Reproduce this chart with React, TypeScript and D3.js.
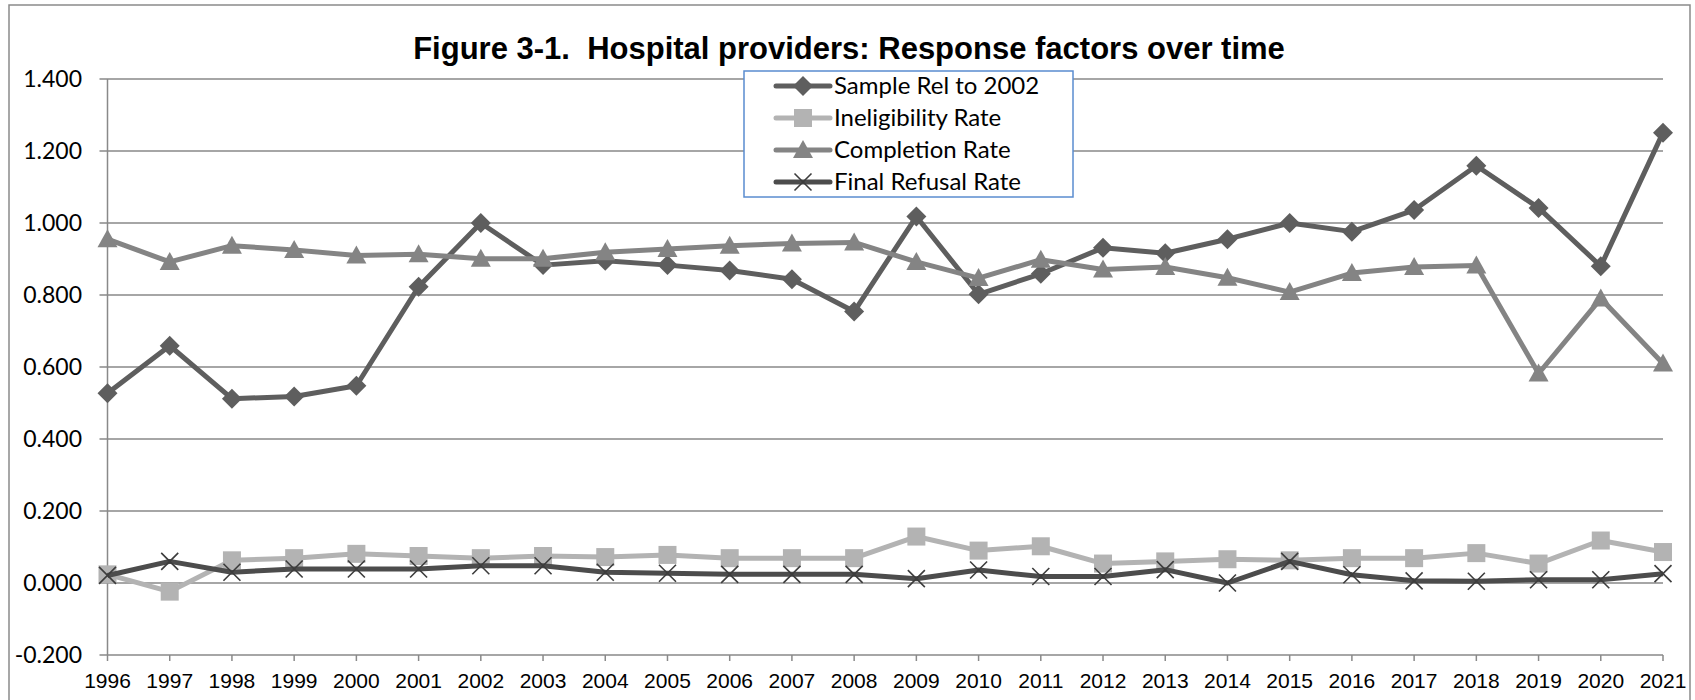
import { scaleLinear, scalePoint, line } from "d3";

const years = [
  "1996", "1997", "1998", "1999", "2000", "2001", "2002", "2003", "2004",
  "2005", "2006", "2007", "2008", "2009", "2010", "2011", "2012", "2013",
  "2014", "2015", "2016", "2017", "2018", "2019", "2020", "2021",
];

const sampleRel = [
  0.527, 0.659, 0.512, 0.518, 0.548, 0.823, 1.0, 0.883, 0.895, 0.883, 0.868,
  0.844, 0.754, 1.018, 0.802, 0.859, 0.931, 0.916, 0.955, 1.0, 0.976, 1.036,
  1.159, 1.042, 0.88, 1.251,
];

const ineligibility = [
  0.024, -0.024, 0.063, 0.069, 0.081, 0.075, 0.069, 0.075, 0.072, 0.078,
  0.069, 0.069, 0.069, 0.129, 0.09, 0.102, 0.054, 0.06, 0.066, 0.063, 0.069,
  0.069, 0.083, 0.054, 0.118, 0.086,
];

const completion = [
  0.955, 0.892, 0.937, 0.925, 0.91, 0.913, 0.901, 0.901, 0.919, 0.928, 0.937,
  0.943, 0.946, 0.892, 0.847, 0.898, 0.871, 0.878, 0.848, 0.808, 0.861,
  0.878, 0.882, 0.582, 0.79, 0.61,
];

const finalRefusal = [
  0.021, 0.06, 0.03, 0.039, 0.039, 0.039, 0.048, 0.048, 0.03, 0.027, 0.024,
  0.024, 0.024, 0.012, 0.036, 0.018, 0.018, 0.037, 0.0, 0.06, 0.023, 0.006,
  0.005, 0.009, 0.009, 0.026,
];

const yTicks = [-0.2, 0, 0.2, 0.4, 0.6, 0.8, 1.0, 1.2, 1.4];

const title = "Figure 3-1.  Hospital providers: Response factors over time";

type Marker = "diamond" | "square" | "triangle" | "cross";

const series: { name: string; values: number[]; color: string; marker: Marker; markerColor: string }[] = [
  { name: "Sample Rel to 2002", values: sampleRel, color: "#5e5e5e", marker: "diamond", markerColor: "#5e5e5e" },
  { name: "Ineligibility Rate", values: ineligibility, color: "#b3b3b3", marker: "square", markerColor: "#b3b3b3" },
  { name: "Completion Rate", values: completion, color: "#848484", marker: "triangle", markerColor: "#848484" },
  { name: "Final Refusal Rate", values: finalRefusal, color: "#4c4c4c", marker: "cross", markerColor: "#3c3c3c" },
];

const W = 1695;
const H = 700;
const plot = { left: 107.5, right: 1663, top: 79, bottom: 655 };

const MarkerShape = ({ type, x, y, color }: { type: Marker; x: number; y: number; color: string }) => {
  if (type === "diamond") {
    const r = 10;
    return <path d={`M${x},${y - r}L${x + r},${y}L${x},${y + r}L${x - r},${y}Z`} fill={color} />;
  }
  if (type === "square") {
    const r = 9;
    return <rect x={x - r} y={y - r} width={2 * r} height={2 * r} fill={color} />;
  }
  if (type === "triangle") {
    const r = 10;
    return <path d={`M${x},${y - r}L${x + r},${y + r * 0.8}L${x - r},${y + r * 0.8}Z`} fill={color} />;
  }
  const r = 8.5;
  return (
    <path
      d={`M${x - r},${y - r}L${x + r},${y + r}M${x - r},${y + r}L${x + r},${y - r}`}
      stroke={color}
      strokeWidth={1.6}
      fill="none"
    />
  );
};

export default function App() {
  const x = scalePoint<string>().domain(years).range([plot.left, plot.right]);
  const y = scaleLinear().domain([-0.2, 1.4]).range([plot.bottom, plot.top]);

  const lineGen = line<number>()
    .x((_, i) => x(years[i]) as number)
    .y((d) => y(d));

  const legend = { x: 744, y: 71, w: 329, h: 126, rowH: 32 };

  return (
    <svg width={W} height={H} style={{ position: "absolute", left: 0, top: 0 }}>
      <rect x={0} y={0} width={W} height={H} fill="#ffffff" />
      <rect x={9} y={5} width={W - 14} height={H} fill="none" stroke="#8a8a8a" strokeWidth={1.5} />

      <text
        x={849}
        y={59}
        textAnchor="middle"
        fontFamily="'Liberation Sans', Arial, sans-serif"
        fontWeight="bold"
        fontSize={31}
        fill="#000"
        style={{ whiteSpace: "pre" }}
      >
        {title}
      </text>

      {yTicks.map((t) => (
        <g key={t}>
          <line x1={plot.left - 8} x2={plot.right} y1={y(t)} y2={y(t)} stroke="#898989" strokeWidth={1.5} />
          <text
            x={82}
            y={y(t)}
            dy="0.35em"
            textAnchor="end"
            fontFamily="Lato, 'Open Sans', sans-serif"
            fontSize={23}
            fill="#000"
          >
            {t.toFixed(3)}
          </text>
        </g>
      ))}

      <line x1={plot.left} x2={plot.left} y1={plot.top} y2={plot.bottom} stroke="#898989" strokeWidth={1.5} />

      {years.map((yr) => (
        <g key={yr}>
          <line
            x1={x(yr)}
            x2={x(yr)}
            y1={plot.bottom}
            y2={plot.bottom + 6}
            stroke="#898989"
            strokeWidth={1.5}
          />
          <text
            x={x(yr)}
            y={688}
            textAnchor="middle"
            fontFamily="'Liberation Sans', Arial, sans-serif"
            fontSize={21}
            fill="#000"
          >
            {yr}
          </text>
        </g>
      ))}

      {series.map((s) => (
        <g key={s.name}>
          <path d={lineGen(s.values) || ""} fill="none" stroke={s.color} strokeWidth={5} strokeLinejoin="round" />
          {s.values.map((v, i) => (
            <MarkerShape key={i} type={s.marker} x={x(years[i]) as number} y={y(v)} color={s.markerColor} />
          ))}
        </g>
      ))}

      <g>
        <rect x={legend.x} y={legend.y} width={legend.w} height={legend.h} fill="#fff" stroke="#5a8ccf" strokeWidth={1.5} />
        {series.map((s, i) => {
          const cy = legend.y + 15 + i * legend.rowH;
          return (
            <g key={s.name}>
              <line x1={776} x2={830} y1={cy} y2={cy} stroke={s.color} strokeWidth={5} strokeLinecap="round" />
              <MarkerShape type={s.marker} x={803} y={cy} color={s.markerColor} />
              <text
                x={834}
                y={cy}
                dy="0.35em"
                fontFamily="Lato, 'Open Sans', sans-serif"
                fontSize={24}
                fill="#000"
              >
                {s.name}
              </text>
            </g>
          );
        })}
      </g>
    </svg>
  );
}
